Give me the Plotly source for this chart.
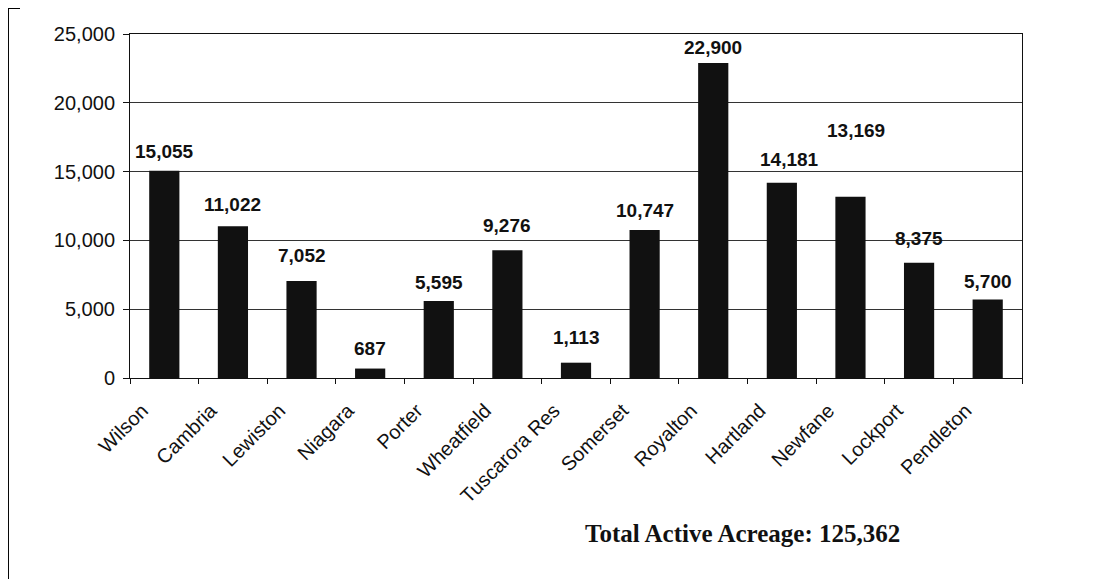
import plotly.graph_objects as go

towns = ["Wilson", "Cambria", "Lewiston", "Niagara", "Porter", "Wheatfield",
         "Tuscarora Res", "Somerset", "Royalton", "Hartland", "Newfane",
         "Lockport", "Pendleton"]
acres = [15055, 11022, 7052, 687, 5595, 9276, 1113, 10747, 22900, 14181,
         13169, 8375, 5700]
y_ticks = [0, 5000, 10000, 15000, 20000, 25000]
total_label = "Total Active Acreage: 125,362"

# pixel lift of each value label above its bar (the scan has them scattered)
label_lift = [19, 22, 25, 20, 19, 25, 25, 20, 15, 23, 66, 24, 18]
label_dx = [0, 0, 0, 0, 0, 0, 0, 0, 0, 8, 6, 0, 0]

fig = go.Figure()

fig.add_trace(go.Bar(
    x=towns,
    y=acres,
    marker=dict(color="#111111", line=dict(width=0)),
    showlegend=False,
))

for town, val, lift, dx in zip(towns, acres, label_lift, label_dx):
    fig.add_annotation(
        x=town, y=val,
        text="<b>" + f"{val:,}" + "</b>",
        showarrow=False,
        yanchor="middle",
        yshift=lift,
        xshift=dx,
        font=dict(family="Liberation Sans, Arial", size=19, color="#111111"),
    )

fig.add_annotation(
    xref="paper", yref="paper",
    x=0.687, y=-0.4506,
    xanchor="center", yanchor="middle",
    text="<b>" + total_label + "</b>",
    showarrow=False,
    font=dict(family="Liberation Serif, Times New Roman", size=25, color="#111111"),
)

# scan frame on the left edge
fig.add_shape(type="line", xref="paper", yref="paper",
              x0=-0.1368, x1=-0.1368, y0=1.0756, y1=-0.7,
              line=dict(color="#000000", width=2))
fig.add_shape(type="line", xref="paper", yref="paper",
              x0=-0.1368, x1=-0.1233, y0=1.0756, y1=1.0756,
              line=dict(color="#000000", width=2))

fig.update_xaxes(
    tickangle=-45,
    ticks="outside",
    tickson="boundaries",
    ticklen=5,
    tickcolor="#111111",
    showline=True,
    linecolor="#111111",
    linewidth=1,
    mirror=True,
    ticklabelshift=-22,
    ticklabelstandoff=12,
    tickfont=dict(family="Liberation Sans, Arial", size=20, color="#111111"),
)

fig.update_yaxes(
    range=[0, 25000],
    tickvals=y_ticks,
    tickformat=",",
    ticks="outside",
    ticklen=6,
    tickcolor="#111111",
    showgrid=True,
    gridcolor="#333333",
    gridwidth=1,
    showline=True,
    linecolor="#111111",
    linewidth=1,
    mirror=True,
    zeroline=False,
    ticklabelstandoff=4,
    tickfont=dict(family="Liberation Sans, Arial", size=20, color="#111111"),
)

fig.update_layout(
    width=1113,
    height=579,
    bargap=0.56,
    plot_bgcolor="white",
    paper_bgcolor="white",
    margin=dict(l=122, r=99, t=26, b=209, autoexpand=False),
)

fig.write_html("out.html")
